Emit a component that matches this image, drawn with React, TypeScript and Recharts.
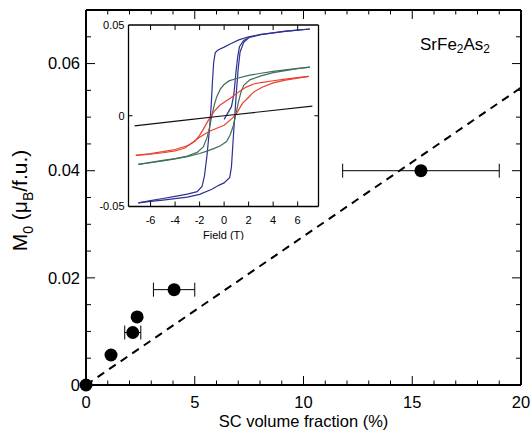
import { ComposedChart, LineChart, Line, Scatter, ErrorBar, XAxis, YAxis } from 'recharts'

// main panel: M0 vs SC volume fraction
const scFraction = [0, 1.15, 2.15, 2.35, 4.05, 15.4]
const m0 = [0, 0.0056, 0.0098, 0.0127, 0.0178, 0.04]
const scFractionErr = [0, 0, 0.37, 0, 0.95, 3.6]
const fitFraction = [0, 20]
const fitM0 = [0, 0.0555]

const xTicks = [0, 1, 2, 3, 4, 5, 6, 7, 8, 9, 10, 11, 12, 13, 14, 15, 16, 17, 18, 19, 20]
const xMajor = [0, 5, 10, 15, 20]
const yTicks = [0, 0.005, 0.01, 0.015, 0.02, 0.025, 0.03, 0.035, 0.04, 0.045, 0.05, 0.055, 0.06, 0.065]
const yMajor = [0, 0.02, 0.04, 0.06]

// inset: hysteresis loops, [field (T), moment]
const fieldTicks = [-6, -4, -2, 0, 2, 4, 6]
const momentTicks = [-0.05, 0, 0.05]

const blueDown = [
  [7, 0.0478], [6, 0.0472], [5, 0.0465], [4, 0.0457], [3, 0.0448], [2, 0.0435], [1.2, 0.0418],
  [0.5, 0.0395], [0, 0.0378], [-0.5, 0.0362], [-0.72, 0.0348], [-0.85, 0.0295], [-0.95, 0.019],
  [-1.05, 0.006], [-1.2, -0.008], [-1.4, -0.022], [-1.6, -0.033], [-1.8, -0.039], [-2.2, -0.0418],
  [-3, -0.0432], [-4, -0.0444], [-5, -0.0456], [-6, -0.0468], [-7, -0.048],
]
const blueUp = [
  [-7, -0.048], [-6, -0.0472], [-5, -0.0465], [-4, -0.0457], [-3, -0.0448], [-2, -0.0433],
  [-1, -0.0405], [-0.4, -0.0382], [0, -0.037], [0.46, -0.034], [0.6, -0.028], [0.75, -0.012],
  [0.87, 0], [1.0, 0.013], [1.15, 0.026], [1.3, 0.035], [1.6, 0.0405], [2, 0.043], [3, 0.0447],
  [4, 0.0457], [5, 0.0466], [6, 0.0472], [7, 0.0478],
]
const blueVirgin = [
  [0, -0.002], [0.6, 0.005], [0.8, 0.012], [0.95, 0.023], [1.1, 0.032], [1.25, 0.038], [1.6, 0.0415], [2, 0.043],
]
const greenDown = [
  [7, 0.0268], [6, 0.0261], [5, 0.0253], [4, 0.0244], [3, 0.0234], [2, 0.0222], [1, 0.0205],
  [0.4, 0.0192], [0, 0.0172], [-0.3, 0.0148], [-0.6, 0.0105], [-0.8, 0.006], [-1.0, 0],
  [-1.2, -0.0068], [-1.4, -0.0122], [-1.7, -0.0172], [-2.2, -0.0202], [-3, -0.0222],
  [-4, -0.0236], [-5, -0.0246], [-6, -0.0257], [-7, -0.0268],
]
const greenUp = [
  [-7, -0.0268], [-6, -0.0259], [-5, -0.0249], [-4, -0.0238], [-3, -0.0225], [-2, -0.0208],
  [-1.4, -0.0195], [-0.8, -0.018], [-0.3, -0.0165], [0.2, -0.0142], [0.5, -0.0105], [0.75, -0.0055],
  [0.95, 0.0005], [1.15, 0.007], [1.35, 0.0125], [1.6, 0.0168], [2.1, 0.0198], [3, 0.022],
  [4, 0.0238], [5, 0.0249], [6, 0.0259], [7, 0.0268],
]
const redDown = [
  [6.9, 0.0217], [6, 0.021], [5, 0.0202], [4, 0.0193], [3, 0.0183], [2.4, 0.0175], [1.8, 0.0158],
  [1.3, 0.0137], [0.5, 0.0097], [-0.35, 0.0058], [-0.8, 0.0025], [-1.1, -0.0005], [-1.4, -0.0038],
  [-1.7, -0.0075], [-2, -0.0108], [-2.4, -0.0142], [-3, -0.0165], [-4, -0.0186], [-5, -0.0198],
  [-6, -0.0208], [-7.2, -0.0218],
]
const redUp = [
  [-7.2, -0.0218], [-6, -0.0212], [-5, -0.0204], [-4, -0.0194], [-3.2, -0.0178], [-2.8, -0.0158],
  [-2, -0.0118], [-1.2, -0.0085], [-0.5, -0.0066], [0, -0.0052], [0.7, -0.0012], [1, 0.0012],
  [1.5, 0.0068], [2, 0.0102], [2.4, 0.013], [3.1, 0.0157], [4, 0.0181], [5, 0.0196], [6, 0.0207],
  [6.9, 0.0217],
]
const blackLine = [[-7.3, -0.0056], [-3, -0.0023], [0, 0], [3, 0.0022], [7.2, 0.0053]]

const FONT = '"Liberation Sans", Arial, sans-serif'

const toPts = (b: number[][]) => b.map(([h, m]) => ({ h, m }))

type Side = 'bottom' | 'top' | 'left' | 'right'

// ticks drawn inward from the frame, labels only on labelled values
function inTick(side: Side, labelled: number[], long: number[], big: number, small: number, font: number, gap: number) {
  return (p: any) => {
    const v: number = p.payload.value
    const len = long.includes(v) ? big : small
    const { x, y } = p
    const dx = side === 'left' ? len : side === 'right' ? -len : 0
    const dy = side === 'bottom' ? -len : side === 'top' ? len : 0
    const showLabel = labelled.includes(v)
    return (
      <g>
        {len > 0 && <line x1={x} y1={y} x2={x + dx} y2={y + dy} stroke="#000" strokeWidth={1} />}
        {showLabel && side === 'bottom' && (
          <text x={x} y={y + gap} textAnchor="middle" fontSize={font} fill="#000">{String(v)}</text>
        )}
        {showLabel && side === 'left' && (
          <text x={x - gap} y={y} dy="0.35em" textAnchor="end" fontSize={font} fill="#000">{String(v)}</text>
        )}
      </g>
    )
  }
}

const frame = { stroke: '#000', strokeWidth: 2 }
const insetFrame = { stroke: '#000', strokeWidth: 1.3 }

function YTitle(props: any) {
  const vb = props.viewBox
  const x = vb.x + 27
  const y = vb.y + vb.height / 2 + 3
  return (
    <text x={x} y={y} transform={`rotate(-90 ${x} ${y})`} textAnchor="middle" fontSize={21} fill="#000">
      <tspan>M</tspan>
      <tspan fontSize={14} dy={6}>0</tspan>
      <tspan dy={-6}> (μ</tspan>
      <tspan fontSize={14} dy={6}>B</tspan>
      <tspan dy={-6}>/f.u.)</tspan>
    </text>
  )
}

function XTitle(props: any) {
  const vb = props.viewBox
  return (
    <text x={vb.x + vb.width / 2} y={vb.y + 42} textAnchor="middle" fontSize={16.5} fill="#000">
      SC volume fraction (%)
    </text>
  )
}

function FieldTitle(props: any) {
  const vb = props.viewBox
  return (
    <text x={vb.x + vb.width / 2} y={vb.y + 32} textAnchor="middle" fontSize={11} fill="#000">
      Field (T)
    </text>
  )
}

const Dot = (p: any) => <circle cx={p.cx} cy={p.cy} r={6.5} fill="#000" />

export default function App() {
  const points = scFraction.map((x, i) => ({ x, y: m0[i], err: scFractionErr[i] }))
  const fit = fitFraction.map((x, i) => ({ x, y: fitM0[i] }))

  const loops = [
    { data: blueDown, color: '#2e3192' },
    { data: blueUp, color: '#2e3192' },
    { data: blueVirgin, color: '#2e3192' },
    { data: greenDown, color: '#3f6e5c' },
    { data: greenUp, color: '#3f6e5c' },
    { data: redDown, color: '#e8402a' },
    { data: redUp, color: '#e8402a' },
    { data: blackLine, color: '#111111' },
  ]

  return (
    <div style={{ position: 'absolute', left: 0, top: 0, width: 532, height: 436, background: '#fff', fontFamily: FONT }}>
      <ComposedChart width={532} height={436} margin={{ top: 0, right: 0, left: 0, bottom: 0 }}>
        <XAxis
          dataKey="x"
          type="number"
          domain={[0, 20]}
          ticks={xTicks}
          interval={0}
          height={51}
          tickSize={0}
          tickMargin={0}
          tickLine={false}
          axisLine={frame}
          tick={inTick('bottom', xMajor, xMajor, 9, 4.5, 16.5, 23)}
          label={{ content: XTitle }}
        />
        <XAxis
          xAxisId="top"
          orientation="top"
          dataKey="x"
          type="number"
          domain={[0, 20]}
          ticks={xTicks}
          interval={0}
          height={10}
          tickSize={0}
          tickMargin={0}
          tickLine={false}
          axisLine={frame}
          tick={inTick('top', [], xMajor, 9, 4.5, 16.5, 0)}
        />
        <YAxis
          dataKey="y"
          type="number"
          domain={[0, 0.07]}
          ticks={yTicks}
          interval={0}
          width={86}
          tickSize={0}
          tickMargin={0}
          tickLine={false}
          axisLine={frame}
          tick={inTick('left', yMajor, yMajor, 9, 5, 16.5, 6)}
          label={{ content: YTitle }}
        />
        <YAxis
          yAxisId="right"
          orientation="right"
          dataKey="y"
          type="number"
          domain={[0, 0.07]}
          ticks={yTicks}
          interval={0}
          width={11}
          tickSize={0}
          tickMargin={0}
          tickLine={false}
          axisLine={frame}
          tick={inTick('right', [], yMajor, 9, 5, 16.5, 0)}
        />
        {/* invisible copy so the top and right frame axes have a series */}
        <Line
          data={fit}
          dataKey="y"
          xAxisId="top"
          yAxisId="right"
          stroke="none"
          dot={false}
          isAnimationActive={false}
        />
        <Line
          data={fit}
          dataKey="y"
          type="linear"
          stroke="#000"
          strokeWidth={2}
          strokeDasharray="8 6"
          dot={false}
          isAnimationActive={false}
        />
        <Scatter data={points} dataKey="y" shape={Dot} isAnimationActive={false}>
          <ErrorBar dataKey="err" direction="x" width={7} stroke="#000" strokeWidth={1} />
        </Scatter>
      </ComposedChart>

      <div style={{ position: 'absolute', left: 420, top: 36, fontSize: 17, lineHeight: '17px', color: '#000' }}>
        SrFe<sub style={{ fontSize: '0.7em', verticalAlign: '-0.25em', lineHeight: 0 }}>2</sub>As
        <sub style={{ fontSize: '0.7em', verticalAlign: '-0.25em', lineHeight: 0 }}>2</sub>
      </div>

      <div style={{ position: 'absolute', left: 93, top: 15 }}>
        <LineChart width={230} height={225} margin={{ top: 0, right: 0, left: 0, bottom: 0 }}>
          <XAxis
            dataKey="h"
            type="number"
            domain={[-7.8, 7.7]}
            ticks={fieldTicks}
            interval={0}
            height={33.5}
            tickSize={0}
            tickMargin={0}
            tickLine={false}
            axisLine={insetFrame}
            tick={inTick('bottom', fieldTicks, fieldTicks, 5, 0, 11, 17.5)}
            label={{ content: FieldTitle }}
          />
          <XAxis
            xAxisId="top"
            orientation="top"
            dataKey="h"
            type="number"
            domain={[-7.8, 7.7]}
            ticks={fieldTicks}
            interval={0}
            height={10}
            tickSize={0}
            tickMargin={0}
            tickLine={false}
            axisLine={insetFrame}
            tick={inTick('top', [], fieldTicks, 5, 0, 11, 0)}
          />
          <YAxis
            dataKey="m"
            type="number"
            domain={[-0.05, 0.05]}
            ticks={momentTicks}
            interval={0}
            width={35.5}
            tickSize={0}
            tickMargin={0}
            tickLine={false}
            axisLine={insetFrame}
            tick={inTick('left', momentTicks, [0], 4, 0, 11, 4)}
          />
          <YAxis
            yAxisId="right"
            orientation="right"
            dataKey="m"
            type="number"
            domain={[-0.05, 0.05]}
            ticks={momentTicks}
            interval={0}
            width={4.5}
            tickSize={0}
            tickMargin={0}
            tickLine={false}
            axisLine={insetFrame}
            tick={inTick('right', [], [0], 4, 0, 11, 0)}
          />
          <Line
            data={toPts(blackLine)}
            dataKey="m"
            xAxisId="top"
            yAxisId="right"
            stroke="none"
            dot={false}
            isAnimationActive={false}
          />
          {loops.map((l, i) => (
            <Line
              key={i}
              data={toPts(l.data)}
              dataKey="m"
              type="linear"
              stroke={l.color}
              strokeWidth={1.2}
              dot={false}
              isAnimationActive={false}
            />
          ))}
        </LineChart>
      </div>
    </div>
  )
}
